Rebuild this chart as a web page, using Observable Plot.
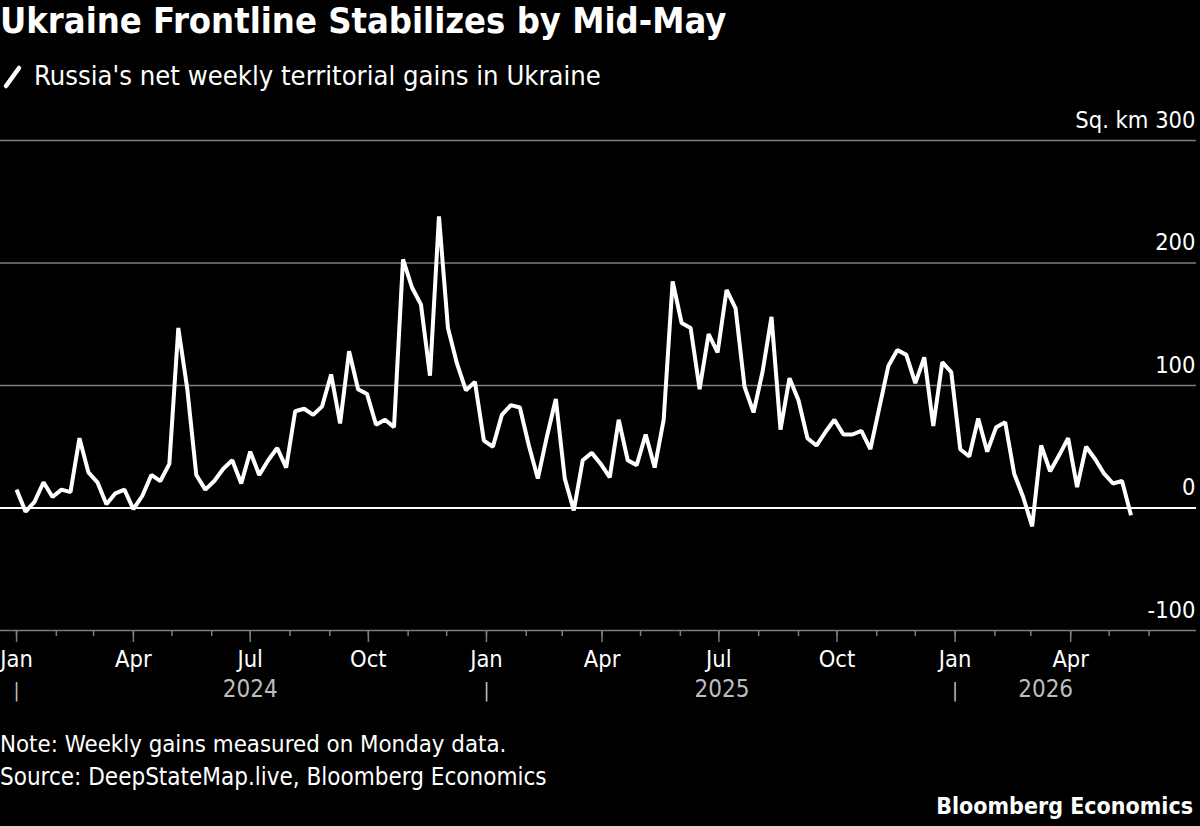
<!DOCTYPE html>
<html>
<head>
<meta charset="utf-8">
<script src="https://cdn.jsdelivr.net/npm/d3@7"></script>
<script src="https://cdn.jsdelivr.net/npm/@observablehq/plot@0.6"></script>
<style>
  body { margin: 0; background: #000; }
  #wrap { position: relative; width: 1200px; height: 826px; background: #000; color: #fff;
          font-family: "DejaVu Sans Condensed", "DejaVu Sans", sans-serif; overflow: hidden; }
  .t { position: absolute; white-space: nowrap; line-height: 1; }
  #chart { position: absolute; left: 0; top: 100px; }
</style>
</head>
<body>
<div id="wrap">
  <div class="t" style="left:0;top:3px;font-size:36px;font-weight:bold;">Ukraine Frontline Stabilizes by Mid-May</div>
  <svg style="position:absolute;left:0;top:62px" width="26" height="30">
    <line x1="6" y1="24" x2="19" y2="6" stroke="#fff" stroke-width="4.5" stroke-linecap="round"></line>
  </svg>
  <div class="t" style="left:34px;top:62px;font-size:27.2px;">Russia's net weekly territorial gains in Ukraine</div>
  <div id="chart"></div>
  <div class="t" style="left:0;top:733px;font-size:23.8px;">Note: Weekly gains measured on Monday data.</div>
  <div class="t" style="left:0;top:765px;font-size:24px;">Source: DeepStateMap.live, Bloomberg Economics</div>
  <div class="t" style="right:7px;top:795px;font-size:23px;font-weight:bold;">Bloomberg Economics</div>
</div>
<script>
// First Monday of the series; one value per week after that
const firstWeek = "2024-01-01";
// Russia's net weekly territorial gains, sq. km
const gains = [
  15, -3, 5, 21, 9, 15, 13, 57, 29, 21, 3, 12, 15, -1, 10, 27, 22, 36, 147, 97, 27, 15, 22, 32, 39, 20,
  46, 27, 39, 49, 33, 79, 81, 76, 83, 109, 69, 128, 97, 93, 68, 72, 66, 203, 180, 166, 108, 238, 147, 118, 96, 103,
  55, 50, 76, 84, 82, 51, 24, 58, 89, 24, -2, 39, 45, 36, 25, 72, 39, 35, 60, 33, 72, 185, 151, 147, 97, 142,
  127, 178, 163, 99, 78, 111, 156, 64, 106, 88, 57, 51, 62, 72, 60, 60, 63, 48, 82, 116, 129, 125, 102, 123, 67, 119,
  111, 48, 42, 73, 46, 66, 70, 28, 9, -15, 51, 30, 43, 57, 17, 50, 40, 28, 20, 22, -6
];
const yTicks = [-100, 0, 100, 200, 300];
const yearLabels = ["2024", "2025", "2026"];
const xStart = "2023-12-19T12:00Z";
const xEnd = "2026-07-08T00:00Z";

const start = new Date(firstWeek + "T00:00Z");
const data = gains.map((v, i) => ({date: d3.utcDay.offset(start, 7 * i), value: v}));

const monthTicks = d3.utcMonth.range(new Date("2024-01-01T00:00Z"), new Date("2026-07-01T00:00Z"));
const quarterTicks = monthTicks.filter(d => d.getUTCMonth() % 3 === 0);
const yearStarts = yearLabels.map(y => new Date(`${y}-01-01T00:00Z`));
const yearRows = yearLabels.map(y => {
  const inYear = data.filter(d => d.date.getUTCFullYear() === +y);
  const a = d3.min(inYear, d => d.date), b = d3.max(inYear, d => d.date);
  return {year: y, mid: new Date((+a + +b) / 2)};
});

const grey = "#7d7d7d";
const chart = Plot.plot({
  width: 1200,
  height: 610,
  marginLeft: 0,
  marginRight: 4,
  marginTop: 40,
  marginBottom: 80,
  style: {background: "#000", color: "#fff", fontFamily: "'DejaVu Sans Condensed', 'DejaVu Sans', sans-serif", fontSize: "23.5px", overflow: "visible"},
  x: {type: "utc", domain: [new Date(xStart), new Date(xEnd)], axis: null},
  y: {domain: [-100, 300], axis: null},
  marks: [
    Plot.ruleY(yTicks.filter(d => d !== 0), {stroke: grey, strokeWidth: 1.5}),
    Plot.ruleY([0], {stroke: "#fff", strokeWidth: 2}),
    Plot.axisX(monthTicks, {anchor: "bottom", tickSize: 6, tickFormat: () => "", stroke: grey, strokeWidth: 1.5}),
    Plot.axisX(quarterTicks, {anchor: "bottom", tickSize: 12, tickPadding: 8, tickFormat: d3.utcFormat("%b"),
      stroke: grey, strokeWidth: 1.5, fill: "#fff", fontSize: 23.5}),
    Plot.text(yearRows, {x: "mid", text: "year", frameAnchor: "bottom", lineAnchor: "top", dy: 49, fill: "#bdbdbd", fontSize: 24}),
    Plot.text(yearStarts, {x: d => d, text: () => "|", frameAnchor: "bottom", lineAnchor: "top", dy: 52, fill: "#bdbdbd", fontSize: 20}),
    Plot.text(yTicks, {y: d => d, text: d => d === 300 ? "Sq. km 300" : String(d), frameAnchor: "right",
      textAnchor: "end", lineAnchor: "bottom", dx: -1, dy: -13, fill: "#fff", fontSize: 23.5}),
    Plot.line(data, {x: "date", y: "value", stroke: "#fff", strokeWidth: 4, strokeLinejoin: "miter", strokeLinecap: "butt"})
  ]
});
document.getElementById("chart").appendChild(chart);
</script>
</body>
</html>
